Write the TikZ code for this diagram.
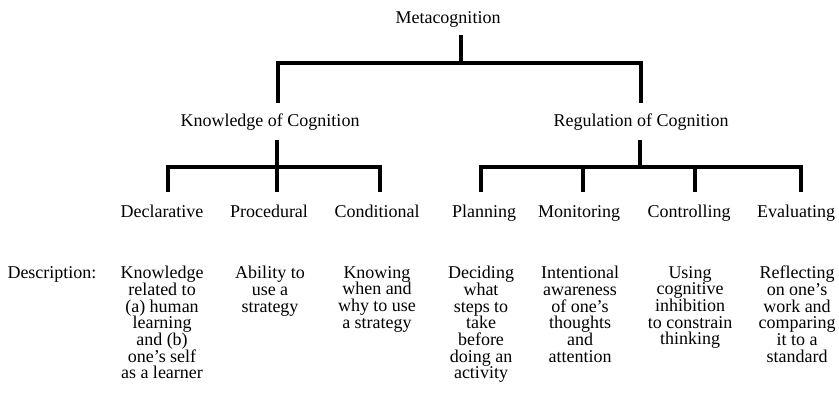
\documentclass[tikz,border=0pt]{standalone}
\usepackage{fontspec}
\setmainfont{Liberation Serif}
\begin{document}
\begin{tikzpicture}[x=1pt,y=-1pt,
  lbl/.style={inner sep=0pt, anchor=base, font=\fontsize{18}{16.7}\selectfont},
  desc/.style={inner sep=0pt, anchor=north, align=center, font=\fontsize{18}{16.7}\selectfont},
  tree/.style={line width=3.6pt, line cap=butt, line join=miter}]
\useasboundingbox (0,0) rectangle (839,410);
% labels
\node[lbl] (meta) at (448,23) {Metacognition};
\node[lbl] (know) at (270,126) {Knowledge of Cognition};
\node[lbl] (reg) at (641,126) {Regulation of Cognition};
\node[lbl] (decl) at (162,217) {Declarative};
\node[lbl] (proc) at (269,217) {Procedural};
\node[lbl] (cond) at (377,217) {Conditional};
\node[lbl] (plan) at (484,217) {Planning};
\node[lbl] (moni) at (579,217) {Monitoring};
\node[lbl] (cont) at (689,217) {Controlling};
\node[lbl] (eval) at (796,217) {Evaluating};
% descriptions
\node[lbl] (dlab) at (52,278) {Description:};
\node[desc] (ddecl) at (162,266) {Knowledge\\related to\\(a) human\\learning\\and (b)\\one’s self\\as a learner};
\node[desc] (dproc) at (270,266) {Ability to\\use a\\strategy};
\node[desc] (dcond) at (377,266) {Knowing\\when and\\why to use\\a strategy};
\node[desc] (dplan) at (481,266) {Deciding\\what\\steps to\\take\\before\\doing an\\activity};
\node[desc] (dmoni) at (580,266) {Intentional\\awareness\\of one’s\\thoughts\\and\\attention};
\node[desc] (dcont) at (690,266) {Using\\cognitive\\inhibition\\to constrain\\thinking};
\node[desc] (deval) at (797,266) {Reflecting\\on one’s\\work and\\comparing\\it to a\\standard};
% tree coordinates
\coordinate (mtop) at (461,35);
\coordinate (mj) at (461,63);
\coordinate (kj) at (278,63);
\coordinate (rj) at (641,63);
\coordinate (kend) at (278,103);
\coordinate (rend) at (641,103);
\coordinate (ktop) at (277,140);
\coordinate (kbar) at (277,167);
\coordinate (rtop) at (640,140);
\coordinate (rbar) at (640,167);
\coordinate (c1) at (168,192);
\coordinate (c2) at (277,192);
\coordinate (c3) at (380,192);
\coordinate (c4) at (481,192);
\coordinate (c5) at (583,192);
\coordinate (c6) at (695,192);
\coordinate (c7) at (801,192);
% connectors
\draw[tree] (mtop) -- (mj);
\draw[tree] (kend) -- (kj) -- (rj) -- (rend);
\draw[tree] (ktop) -- (c2);
\draw[tree] (c1) -- (c1 |- kbar) -- (c3 |- kbar) -- (c3);
\draw[tree] (rtop) -- (rbar);
\draw[tree] (c4) -- (c4 |- rbar) -- (c7 |- rbar) -- (c7);
\draw[tree] (c5 |- rbar) -- (c5);
\draw[tree] (c6 |- rbar) -- (c6);
\end{tikzpicture}
\end{document}
